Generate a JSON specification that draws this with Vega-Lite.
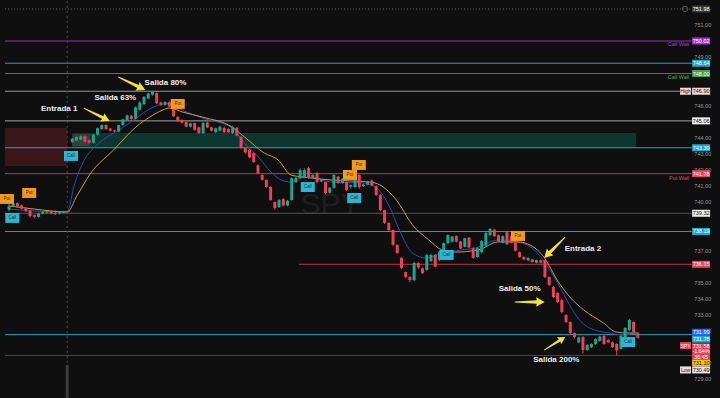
{
"$schema": "https://vega.github.io/schema/vega-lite/v6.json",
"width": 720, "height": 398, "autosize": {"type": "none"}, "padding": 0,
"background": "#0f0f0f",
"config": {"view": {"stroke": null}, "font": "Liberation Sans", "axis": {"disable": true}},
"resolve": {"scale": {"fill": "independent", "stroke": "independent", "color": "independent"}},
"datasets": {
"candles": [
{"i":0,"o":739.55,"h":739.9,"l":739.45,"c":739.75},{"i":1,"o":739.75,"h":740.05,"l":739.7,"c":739.95},{"i":2,"o":739.95,"h":740.0,"l":739.7,"c":739.75},{"i":3,"o":739.8,"h":739.85,"l":739.55,"c":739.6},{"i":4,"o":739.6,"h":739.7,"l":739.4,"c":739.45},{"i":5,"o":739.5,"h":739.55,"l":739.05,"c":739.15},{"i":6,"o":739.2,"h":739.25,"l":739.0,"c":739.1},{"i":7,"o":739.1,"h":739.35,"l":739.05,"c":739.3},{"i":8,"o":739.3,"h":739.45,"l":739.25,"c":739.4},{"i":9,"o":739.35,"h":739.45,"l":739.3,"c":739.42},
{"i":10,"o":739.42,"h":739.5,"l":739.25,"c":739.3},{"i":11,"o":739.35,"h":739.4,"l":739.2,"c":739.28},{"i":12,"o":739.3,"h":739.42,"l":739.25,"c":739.38},{"i":13,"o":739.36,"h":739.48,"l":739.3,"c":739.45},{"i":14,"o":739.45,"h":739.5,"l":739.35,"c":739.4},
{"i":15,"o":743.75,"h":744.0,"l":743.7,"c":743.95},{"i":16,"o":743.85,"h":744.1,"l":743.8,"c":744.05},{"i":17,"o":743.9,"h":744.15,"l":743.85,"c":744.1},{"i":18,"o":744.1,"h":744.15,"l":743.72,"c":743.78},{"i":19,"o":743.85,"h":743.9,"l":743.65,"c":743.7},
{"i":20,"o":743.7,"h":744.25,"l":743.65,"c":744.2},{"i":21,"o":744.2,"h":744.65,"l":744.15,"c":744.6},{"i":22,"o":744.55,"h":744.85,"l":744.5,"c":744.8},{"i":23,"o":744.8,"h":744.85,"l":744.5,"c":744.55},{"i":24,"o":744.58,"h":744.62,"l":744.4,"c":744.45},{"i":25,"o":744.47,"h":744.5,"l":744.35,"c":744.4},{"i":26,"o":744.4,"h":744.82,"l":744.35,"c":744.8},{"i":27,"o":744.8,"h":745.2,"l":744.75,"c":745.15},{"i":28,"o":745.12,"h":745.45,"l":745.08,"c":745.4},{"i":29,"o":745.38,"h":745.42,"l":745.12,"c":745.18},
{"i":30,"o":745.2,"h":745.95,"l":745.15,"c":745.9},{"i":31,"o":745.75,"h":746.28,"l":745.7,"c":746.2},{"i":32,"o":746.1,"h":746.6,"l":746.05,"c":746.55},{"i":33,"o":746.45,"h":746.8,"l":746.4,"c":746.75},{"i":34,"o":746.68,"h":746.9,"l":746.62,"c":746.85},{"i":35,"o":746.78,"h":746.82,"l":746.1,"c":746.15},{"i":36,"o":746.2,"h":746.25,"l":746.0,"c":746.05},{"i":37,"o":746.05,"h":746.28,"l":746.0,"c":746.22},{"i":38,"o":746.22,"h":746.28,"l":745.9,"c":745.95},{"i":39,"o":745.95,"h":746.0,"l":745.3,"c":745.35},
{"i":40,"o":745.3,"h":745.35,"l":745.0,"c":745.05},{"i":41,"o":745.1,"h":745.15,"l":744.9,"c":744.95},{"i":42,"o":744.99,"h":745.02,"l":744.65,"c":744.7},{"i":43,"o":744.7,"h":744.95,"l":744.65,"c":744.9},{"i":44,"o":744.92,"h":744.95,"l":744.45,"c":744.5},{"i":45,"o":744.65,"h":744.7,"l":744.25,"c":744.3},{"i":46,"o":744.3,"h":745.0,"l":744.25,"c":744.92},{"i":47,"o":744.95,"h":745.0,"l":744.6,"c":744.65},{"i":48,"o":744.65,"h":744.7,"l":744.4,"c":744.45},{"i":49,"o":744.35,"h":744.65,"l":744.3,"c":744.6},
{"i":50,"o":744.45,"h":744.75,"l":744.4,"c":744.7},{"i":51,"o":744.62,"h":744.7,"l":744.3,"c":744.35},{"i":52,"o":744.55,"h":744.6,"l":744.3,"c":744.35},{"i":53,"o":744.3,"h":744.75,"l":744.25,"c":744.68},{"i":54,"o":744.62,"h":744.68,"l":744.1,"c":744.15},{"i":55,"o":744.06,"h":744.1,"l":743.3,"c":743.37},{"i":56,"o":743.37,"h":743.4,"l":743.02,"c":743.1},{"i":57,"o":743.25,"h":743.3,"l":742.75,"c":742.8},{"i":58,"o":743.06,"h":743.1,"l":742.45,"c":742.5},{"i":59,"o":742.3,"h":742.35,"l":741.75,"c":741.8},
{"i":60,"o":741.7,"h":741.75,"l":741.35,"c":741.4},{"i":61,"o":741.39,"h":741.42,"l":740.9,"c":740.95},{"i":62,"o":740.95,"h":741.0,"l":740.1,"c":740.14},{"i":63,"o":740.02,"h":740.05,"l":739.55,"c":739.65},{"i":64,"o":739.71,"h":740.2,"l":739.65,"c":740.14},{"i":65,"o":740.2,"h":740.25,"l":739.75,"c":739.8},{"i":66,"o":739.8,"h":740.15,"l":739.75,"c":740.1},{"i":67,"o":740.14,"h":741.55,"l":740.1,"c":741.5},{"i":68,"o":741.26,"h":741.6,"l":741.2,"c":741.51},{"i":69,"o":741.5,"h":742.1,"l":741.45,"c":742.0},
{"i":70,"o":741.55,"h":742.1,"l":741.5,"c":742.0},{"i":71,"o":742.13,"h":742.2,"l":741.45,"c":741.51},{"i":72,"o":741.55,"h":741.75,"l":741.5,"c":741.7},{"i":73,"o":741.82,"h":741.9,"l":741.2,"c":741.26},{"i":74,"o":741.3,"h":741.45,"l":741.25,"c":741.4},{"i":75,"o":741.26,"h":741.3,"l":740.5,"c":740.58},{"i":76,"o":740.6,"h":740.95,"l":740.55,"c":740.9},{"i":77,"o":740.9,"h":741.75,"l":740.85,"c":741.7},{"i":78,"o":741.6,"h":741.65,"l":741.15,"c":741.2},{"i":79,"o":741.2,"h":741.5,"l":741.15,"c":741.45},
{"i":80,"o":741.26,"h":741.3,"l":740.7,"c":740.77},{"i":81,"o":740.97,"h":741.1,"l":740.85,"c":741.08},{"i":82,"o":740.95,"h":741.9,"l":740.9,"c":741.7},{"i":83,"o":741.7,"h":741.75,"l":740.85,"c":740.95},{"i":84,"o":741.0,"h":741.15,"l":740.95,"c":741.1},{"i":85,"o":741.1,"h":741.35,"l":741.05,"c":741.3},{"i":86,"o":741.35,"h":741.4,"l":741.0,"c":741.05},{"i":87,"o":741.0,"h":741.05,"l":740.4,"c":740.45},{"i":88,"o":740.45,"h":740.5,"l":739.45,"c":739.52},{"i":89,"o":739.52,"h":739.55,"l":738.65,"c":738.72},
{"i":90,"o":738.72,"h":738.75,"l":738.2,"c":738.28},{"i":91,"o":738.28,"h":738.3,"l":737.3,"c":737.35},{"i":92,"o":737.35,"h":737.4,"l":736.8,"c":736.85},{"i":93,"o":736.54,"h":736.6,"l":735.85,"c":735.92},{"i":94,"o":735.67,"h":735.7,"l":735.3,"c":735.36},{"i":95,"o":735.36,"h":735.4,"l":735.05,"c":735.17},{"i":96,"o":735.17,"h":736.3,"l":735.1,"c":736.23},{"i":97,"o":736.23,"h":736.3,"l":735.85,"c":735.95},{"i":98,"o":735.9,"h":735.95,"l":735.55,"c":735.6},{"i":99,"o":735.8,"h":736.8,"l":735.75,"c":736.73},
{"i":100,"o":736.35,"h":736.8,"l":736.3,"c":736.73},{"i":101,"o":736.73,"h":736.8,"l":735.95,"c":736.0},{"i":102,"o":736.42,"h":736.98,"l":736.35,"c":736.93},{"i":103,"o":736.93,"h":737.5,"l":736.88,"c":737.47},{"i":104,"o":737.47,"h":738.0,"l":737.4,"c":737.97},{"i":105,"o":737.56,"h":737.9,"l":737.5,"c":737.87},{"i":106,"o":737.9,"h":737.95,"l":737.5,"c":737.56},{"i":107,"o":737.56,"h":737.6,"l":737.1,"c":737.14},{"i":108,"o":737.24,"h":737.8,"l":737.2,"c":737.77},{"i":109,"o":737.8,"h":737.85,"l":737.15,"c":737.2},
{"i":110,"o":737.14,"h":737.2,"l":736.5,"c":736.55},{"i":111,"o":736.6,"h":737.2,"l":736.55,"c":737.15},{"i":112,"o":736.9,"h":737.65,"l":736.85,"c":737.6},{"i":113,"o":737.3,"h":738.15,"l":737.25,"c":738.1},{"i":114,"o":737.97,"h":738.4,"l":737.9,"c":738.35},{"i":115,"o":738.3,"h":738.35,"l":737.85,"c":737.9},{"i":116,"o":737.95,"h":738.0,"l":737.55,"c":737.6},{"i":117,"o":737.5,"h":737.95,"l":737.45,"c":737.9},{"i":118,"o":738.15,"h":738.2,"l":737.35,"c":737.4},{"i":119,"o":737.9,"h":737.95,"l":737.45,"c":737.5},
{"i":120,"o":737.5,"h":737.55,"l":736.95,"c":737.0},{"i":121,"o":736.9,"h":736.95,"l":736.55,"c":736.6},{"i":122,"o":736.6,"h":736.65,"l":736.4,"c":736.45},{"i":123,"o":736.4,"h":736.6,"l":736.35,"c":736.55},{"i":124,"o":736.45,"h":736.5,"l":736.25,"c":736.3},{"i":125,"o":736.25,"h":736.45,"l":736.2,"c":736.4},{"i":126,"o":736.4,"h":736.45,"l":736.2,"c":736.25},{"i":127,"o":736.42,"h":736.45,"l":735.3,"c":735.36},{"i":128,"o":735.36,"h":735.4,"l":734.8,"c":734.87},{"i":129,"o":734.74,"h":734.8,"l":734.05,"c":734.12},
{"i":130,"o":734.37,"h":734.4,"l":733.75,"c":733.8},{"i":131,"o":733.93,"h":734.0,"l":733.1,"c":733.19},{"i":132,"o":733.0,"h":733.05,"l":732.5,"c":732.57},{"i":133,"o":732.57,"h":732.6,"l":731.8,"c":731.88},{"i":134,"o":731.88,"h":731.9,"l":731.55,"c":731.63},{"i":135,"o":731.3,"h":731.65,"l":731.25,"c":731.6},{"i":136,"o":731.63,"h":731.7,"l":730.6,"c":730.83},{"i":137,"o":730.83,"h":731.2,"l":730.75,"c":731.14},{"i":138,"o":731.0,"h":731.25,"l":730.95,"c":731.2},{"i":139,"o":731.2,"h":731.55,"l":731.15,"c":731.5},
{"i":140,"o":731.4,"h":731.7,"l":731.35,"c":731.65},{"i":141,"o":731.7,"h":731.75,"l":731.15,"c":731.2},{"i":142,"o":731.45,"h":731.5,"l":731.25,"c":731.3},{"i":143,"o":731.3,"h":731.35,"l":730.95,"c":731.0},{"i":144,"o":731.2,"h":731.25,"l":730.49,"c":730.8},{"i":145,"o":730.9,"h":731.75,"l":730.85,"c":731.7},{"i":146,"o":731.63,"h":732.25,"l":731.6,"c":732.19},{"i":147,"o":732.07,"h":732.75,"l":732.0,"c":732.69},{"i":148,"o":732.57,"h":732.6,"l":731.9,"c":731.94},{"i":149,"o":731.85,"h":731.9,"l":731.55,"c":731.58}
],
"ma": [
{"s":"f","i":0,"p":739.58},{"s":"f","i":6,"p":739.46},{"s":"f","i":13.8,"p":739.4},{"s":"f","i":15.4,"p":741.0},{"s":"f","i":17.8,"p":742.6},{"s":"f","i":20.2,"p":743.4},{"s":"f","i":22.4,"p":743.9},{"s":"f","i":25.5,"p":744.4},{"s":"f","i":28.7,"p":744.95},{"s":"f","i":31.8,"p":745.55},{"s":"f","i":34.1,"p":745.9},{"s":"f","i":36.4,"p":746.1},{"s":"f","i":38.1,"p":746.15},{"s":"f","i":41.1,"p":745.73},{"s":"f","i":45.8,"p":745.24},{"s":"f","i":52.8,"p":744.62},{"s":"f","i":55.8,"p":743.68},{"s":"f","i":59.1,"p":742.81},{"s":"f","i":62.1,"p":741.88},{"s":"f","i":64.5,"p":741.39},{"s":"f","i":66.8,"p":741.26},{"s":"f","i":68.5,"p":741.51},{"s":"f","i":71.5,"p":741.57},{"s":"f","i":76.2,"p":741.26},{"s":"f","i":83.9,"p":741.2},{"s":"f","i":87.1,"p":740.89},{"s":"f","i":90.2,"p":739.71},{"s":"f","i":92.5,"p":738.28},{"s":"f","i":95.6,"p":736.85},{"s":"f","i":98.8,"p":736.54},{"s":"f","i":102.6,"p":736.85},{"s":"f","i":107.2,"p":737.04},{"s":"f","i":110.5,"p":737.16},{"s":"f","i":115.9,"p":737.66},{"s":"f","i":120.6,"p":737.54},{"s":"f","i":124.5,"p":737.04},{"s":"f","i":126.9,"p":736.29},{"s":"f","i":129.2,"p":735.36},{"s":"f","i":132.2,"p":733.93},{"s":"f","i":134.6,"p":732.88},{"s":"f","i":137.6,"p":732.19},{"s":"f","i":142.3,"p":731.88},{"s":"f","i":145.6,"p":731.76},{"s":"f","i":148.6,"p":731.94},
{"s":"s","i":0,"p":739.77},{"s":"s","i":6,"p":739.58},{"s":"s","i":13.8,"p":739.4},{"s":"s","i":16.1,"p":740.4},{"s":"s","i":19.4,"p":741.82},{"s":"s","i":24.8,"p":743.25},{"s":"s","i":30.1,"p":744.68},{"s":"s","i":33.4,"p":745.3},{"s":"s","i":36.4,"p":745.73},{"s":"s","i":38.1,"p":745.86},{"s":"s","i":41.1,"p":745.61},{"s":"s","i":45.8,"p":745.3},{"s":"s","i":52.8,"p":744.68},{"s":"s","i":55.8,"p":744.06},{"s":"s","i":60.5,"p":743.06},{"s":"s","i":63.8,"p":742.63},{"s":"s","i":66.8,"p":741.7},{"s":"s","i":69.9,"p":741.57},{"s":"s","i":76.2,"p":741.39},{"s":"s","i":85.5,"p":741.26},{"s":"s","i":87.9,"p":741.08},{"s":"s","i":91.8,"p":740.14},{"s":"s","i":95.6,"p":738.6},{"s":"s","i":99.5,"p":737.66},{"s":"s","i":102.6,"p":737.04},{"s":"s","i":105.8,"p":736.91},{"s":"s","i":111.2,"p":737.04},{"s":"s","i":115.9,"p":737.54},{"s":"s","i":120.6,"p":737.54},{"s":"s","i":125.2,"p":737.04},{"s":"s","i":126.9,"p":736.54},{"s":"s","i":129.9,"p":735.17},{"s":"s","i":132.9,"p":734.12},{"s":"s","i":136.2,"p":733.31},{"s":"s","i":140.9,"p":732.5},{"s":"s","i":143.9,"p":731.94},{"s":"s","i":147,"p":731.88},{"s":"s","i":149.3,"p":731.88}
],
"levels": [
{"p":752.01,"k":"d","from":-0.935},{"p":750.02,"k":"p","from":-0.935},{"p":748.64,"k":"c","from":-0.935},{"p":748.0,"k":"g","from":-0.935},{"p":746.9,"k":"h","from":-0.935},{"p":745.06,"k":"w","from":-0.935},{"p":743.39,"k":"c","from":-0.935},{"p":741.78,"k":"r","from":-0.935},{"p":739.32,"k":"w2","from":-0.935},{"p":738.19,"k":"c","from":-0.935},{"p":736.15,"k":"r","from":68.7},{"p":731.78,"k":"c","from":-0.935},{"p":730.49,"k":"l","from":-0.935}
],
"zones": [
{"z":"red","x1":-0.935,"x2":13.8,"p1":744.62,"p2":742.26},{"z":"green","x1":15,"x2":148.6,"p1":744.3,"p2":743.37},{"z":"gray","x1":15,"x2":19.2,"p1":744.24,"p2":743.5}
],
"signals": [
{"t":"Put","i":-0.47,"p":740.21},{"t":"Call","i":0.8,"p":739.03},{"t":"Put","i":4.8,"p":740.58},{"t":"Call","i":14.7,"p":742.88},{"t":"Put","i":40.0,"p":746.11},{"t":"Call","i":70.8,"p":740.95},{"t":"Put","i":80.8,"p":741.7},{"t":"Put","i":82.9,"p":742.32},{"t":"Call","i":81.8,"p":740.27},{"t":"Call","i":103.7,"p":736.73},{"t":"Put","i":120.6,"p":737.91},{"t":"Call","i":146.7,"p":731.32}
],
"notes": [
{"t":"Entrada 1","i":11.9,"p":745.8},{"t":"Salida 63%","i":25.2,"p":746.48},{"t":"Salida 80%","i":37.1,"p":747.41},{"t":"Entrada 2","i":136.0,"p":737.1},{"t":"Salida 50%","i":121.0,"p":734.6},{"t":"Salida 200%","i":129.7,"p":730.2}
],
"arrows": [
{"a":1,"i":20.8,"p":745.45},{"a":2,"i":29.1,"p":747.38},{"a":3,"i":129.3,"p":737.19},{"a":4,"i":123.4,"p":733.81},{"a":5,"i":129.3,"p":731.23}
],
"ticks": [
{"v":751,"t":"751.00"},{"v":749,"t":"749.00"},{"v":746,"t":"746.00"},{"v":744,"t":"744.00"},{"v":743,"t":"743.00"},{"v":742,"t":"742.00"},{"v":741,"t":"741.00"},{"v":740,"t":"740.00"},{"v":737,"t":"737.00"},{"v":735,"t":"735.00"},{"v":734,"t":"734.00"},{"v":733,"t":"733.00"},{"v":732,"t":"732.00"},{"v":730,"t":"730.00"},{"v":729,"t":"729.00"}
],
"tags": [
{"t":"751.98","p":752.01,"k":"d"},{"t":"750.02","p":750.02,"k":"p"},{"t":"748.64","p":748.64,"k":"c"},{"t":"748.00","p":748.0,"k":"g"},{"t":"746.90","p":746.9,"k":"h"},{"t":"745.06","p":745.06,"k":"w"},{"t":"743.39","p":743.39,"k":"c"},{"t":"741.78","p":741.78,"k":"r"},{"t":"739.32","p":739.32,"k":"w"},{"t":"738.19","p":738.19,"k":"c"},{"t":"736.15","p":736.15,"k":"r"},{"t":"731.99","p":731.93,"k":"b"},{"t":"731.78","p":731.5,"k":"c"},{"t":"731.58","p":731.1,"k":"s"},{"t":"-1.64%","p":730.74,"k":"s"},{"t":"35:45","p":730.38,"k":"s"},{"t":"731.10","p":730.03,"k":"y"},{"t":"730.49","p":729.59,"k":"l"}
],
"minis": [
{"t":"High","p":746.9,"k":"h"},{"t":"SPY","p":731.1,"k":"s"},{"t":"Low","p":729.59,"k":"l"}
],
"walls": [
{"t":"Call Wall","p":749.83,"k":"p"},{"t":"Call Wall","p":747.8,"k":"g"},{"t":"Put Wall","p":741.51,"k":"r"}
],
"mark": [{"t":"SPY","i":76.2,"p":739.83}]
},
"layer": [
{"data": {"name": "zones"}, "mark": {"type": "rect"},
 "encoding": {
  "x": {"field": "x1", "type": "quantitative", "scale": {"domain": [-0.935, 167.29], "nice": false, "zero": false}, "axis": null},
  "x2": {"field": "x2"},
  "y": {"field": "p1", "type": "quantitative", "scale": {"domain": [727.846, 752.567], "nice": false, "zero": false}, "axis": null},
  "y2": {"field": "p2"},
  "fill": {"field": "z", "type": "nominal", "scale": {"domain": ["red", "green", "gray"], "range": ["#3a161b", "#0d362e", "#3a3d3c"]}, "legend": null}
 }},
{"data": {"name": "mark"}, "mark": {"type": "text", "fontSize": 30, "color": "#1f1f1f", "font": "Liberation Sans"},
 "encoding": {"x": {"field": "i", "type": "quantitative", "axis": null}, "y": {"field": "p", "type": "quantitative", "axis": null}, "text": {"field": "t"}}},
{"data": {"name": "ticks"}, "mark": {"type": "text", "fontSize": 5.5, "align": "left", "color": "#9a9a9a", "font": "Liberation Sans"},
 "encoding": {"x": {"datum": 162.4, "type": "quantitative"}, "y": {"field": "v", "type": "quantitative", "axis": null}, "text": {"field": "t"}}},
{"data": {"name": "levels"}, "mark": {"type": "rule", "strokeWidth": 1},
 "encoding": {
  "x": {"field": "from", "type": "quantitative", "axis": null},
  "x2": {"datum": 161.8},
  "y": {"field": "p", "type": "quantitative", "axis": null},
  "stroke": {"field": "k", "type": "nominal", "scale": {"domain": ["d", "p", "c", "g", "h", "w", "w2", "r", "l"], "range": ["#5a5a5a", "#9a2fb4", "#2a9fc0", "#3f8a3f", "#9a9a9a", "#a5a5a5", "#555555", "#c7354a", "#4a4a4a"]}, "legend": null},
  "strokeDash": {"condition": {"test": "datum.k == 'd'", "value": [1, 2]}, "value": [1, 0]}
 }},
{"data": {"values": [{"i": 13.8}]}, "mark": {"type": "rule", "color": "#4a4a4a", "strokeDash": [2, 3], "strokeWidth": 1},
 "encoding": {"x": {"field": "i", "type": "quantitative", "axis": null}, "y": {"datum": 727.85, "type": "quantitative", "axis": null}, "y2": {"datum": 752.56}}},
{"data": {"values": [{"i": 13.8}]}, "mark": {"type": "rule", "color": "#3c3c3c", "strokeWidth": 3},
 "encoding": {"x": {"field": "i", "type": "quantitative", "axis": null}, "y": {"datum": 727.85, "type": "quantitative", "axis": null}, "y2": {"datum": 729.9}}},
{"data": {"name": "ma"}, "mark": {"type": "line", "strokeWidth": 1, "interpolate": "monotone"},
 "encoding": {
  "x": {"field": "i", "type": "quantitative", "axis": null},
  "y": {"field": "p", "type": "quantitative", "axis": null},
  "color": {"field": "s", "type": "nominal", "scale": {"domain": ["f", "s"], "range": ["#3547b8", "#c49f4a"]}, "legend": null}
 }},
{"data": {"name": "candles"}, "mark": {"type": "rule", "strokeWidth": 1},
 "encoding": {
  "x": {"field": "i", "type": "quantitative", "axis": null},
  "y": {"field": "l", "type": "quantitative", "axis": null},
  "y2": {"field": "h"},
  "color": {"condition": {"test": "datum.c >= datum.o", "value": "#1fa58b"}, "value": "#ee4059"}
 }},
{"data": {"name": "candles"}, "mark": {"type": "bar", "width": 3},
 "encoding": {
  "x": {"field": "i", "type": "quantitative", "axis": null},
  "y": {"field": "o", "type": "quantitative", "axis": null},
  "y2": {"field": "c"},
  "color": {"condition": {"test": "datum.c >= datum.o", "value": "#1fa58b"}, "value": "#ee4059"}
 }},
{"data": {"name": "signals"}, "mark": {"type": "point", "filled": true, "opacity": 1, "shape": "M-1,-0.71H1V0.71H-1Z", "size": 196},
 "encoding": {
  "x": {"field": "i", "type": "quantitative", "axis": null},
  "y": {"field": "p", "type": "quantitative", "axis": null},
  "fill": {"field": "t", "type": "nominal", "scale": {"domain": ["Put", "Call"], "range": ["#f39a1e", "#2bb6d8"]}, "legend": null}
 }},
{"data": {"name": "signals"}, "mark": {"type": "text", "fontSize": 4.5, "color": "#3a2a10", "font": "Liberation Sans"},
 "encoding": {"x": {"field": "i", "type": "quantitative", "axis": null}, "y": {"field": "p", "type": "quantitative", "axis": null}, "text": {"field": "t"}}},
{"data": {"name": "notes"}, "mark": {"type": "text", "fontSize": 8, "fontWeight": "bold", "color": "#eeeeee", "font": "Liberation Sans"},
 "encoding": {"x": {"field": "i", "type": "quantitative", "axis": null}, "y": {"field": "p", "type": "quantitative", "axis": null}, "text": {"field": "t"}}},
{"data": {"name": "arrows"}, "transform": [{"filter": "datum.a == 1"}], "mark": {"type": "point", "filled": true, "opacity": 1, "color": "#f1e23a", "shape": "M0,-1L0.32,-0.42L0.11,-0.47L0.03,1L-0.03,1L-0.11,-0.47L-0.32,-0.42Z", "size": 841, "angle": 116.5},
 "encoding": {"x": {"field": "i", "type": "quantitative", "axis": null}, "y": {"field": "p", "type": "quantitative", "axis": null}}},
{"data": {"name": "arrows"}, "transform": [{"filter": "datum.a == 2"}], "mark": {"type": "point", "filled": true, "opacity": 1, "color": "#f1e23a", "shape": "M0,-1L0.32,-0.42L0.11,-0.47L0.03,1L-0.03,1L-0.11,-0.47L-0.32,-0.42Z", "size": 900, "angle": 115.7},
 "encoding": {"x": {"field": "i", "type": "quantitative", "axis": null}, "y": {"field": "p", "type": "quantitative", "axis": null}}},
{"data": {"name": "arrows"}, "transform": [{"filter": "datum.a == 3"}], "mark": {"type": "point", "filled": true, "opacity": 1, "color": "#f1e23a", "shape": "M0,-1L0.32,-0.42L0.11,-0.47L0.03,1L-0.03,1L-0.11,-0.47L-0.32,-0.42Z", "size": 882, "angle": 225},
 "encoding": {"x": {"field": "i", "type": "quantitative", "axis": null}, "y": {"field": "p", "type": "quantitative", "axis": null}}},
{"data": {"name": "arrows"}, "transform": [{"filter": "datum.a == 4"}], "mark": {"type": "point", "filled": true, "opacity": 1, "color": "#f1e23a", "shape": "M0,-1L0.32,-0.42L0.11,-0.47L0.03,1L-0.03,1L-0.11,-0.47L-0.32,-0.42Z", "size": 900, "angle": 90},
 "encoding": {"x": {"field": "i", "type": "quantitative", "axis": null}, "y": {"field": "p", "type": "quantitative", "axis": null}}},
{"data": {"name": "arrows"}, "transform": [{"filter": "datum.a == 5"}], "mark": {"type": "point", "filled": true, "opacity": 1, "color": "#f1e23a", "shape": "M0,-1L0.32,-0.42L0.11,-0.47L0.03,1L-0.03,1L-0.11,-0.47L-0.32,-0.42Z", "size": 625, "angle": 58},
 "encoding": {"x": {"field": "i", "type": "quantitative", "axis": null}, "y": {"field": "p", "type": "quantitative", "axis": null}}},
{"data": {"name": "tags"}, "transform": [{"filter": "datum.k != 's'"}], "mark": {"type": "point", "filled": true, "opacity": 1, "shape": "M-1,-0.39H1V0.39H-1Z", "size": 324},
 "encoding": {
  "x": {"datum": 164.0, "type": "quantitative"},
  "y": {"field": "p", "type": "quantitative", "axis": null},
  "fill": {"field": "k", "type": "nominal", "scale": {"domain": ["d", "p", "c", "g", "h", "w", "r", "b", "y", "l"], "range": ["#3a3a3a", "#b02fcf", "#1da8cc", "#45a048", "#f3d5d5", "#ececec", "#e8435a", "#2962ff", "#f2c417", "#f2dcdc"]}, "legend": null}
 }},
{"data": {"name": "tags"}, "transform": [{"filter": "datum.t == '-1.64%'"}], "mark": {"type": "point", "filled": true, "opacity": 1, "color": "#e8435a", "shape": "M-1,-0.89H1V0.89H-1Z", "size": 324},
 "encoding": {"x": {"datum": 164.0, "type": "quantitative"}, "y": {"field": "p", "type": "quantitative", "axis": null}}},
{"data": {"name": "tags"}, "mark": {"type": "text", "fontSize": 5.5, "font": "Liberation Sans"},
 "encoding": {
  "x": {"datum": 164.0, "type": "quantitative"},
  "y": {"field": "p", "type": "quantitative", "axis": null},
  "text": {"field": "t"},
  "color": {"condition": {"test": "indexof(['h','w','y','l'], datum.k) >= 0", "value": "#151515"}, "value": "#ffffff"}
 }},
{"data": {"name": "minis"}, "mark": {"type": "point", "filled": true, "opacity": 1, "shape": "M-1,-0.64H1V0.64H-1Z", "size": 121},
 "encoding": {
  "x": {"datum": 160.3, "type": "quantitative"},
  "y": {"field": "p", "type": "quantitative", "axis": null},
  "fill": {"field": "k", "type": "nominal", "scale": {"domain": ["h", "s", "l"], "range": ["#f3d5d5", "#e8435a", "#f2dcdc"]}, "legend": null}
 }},
{"data": {"name": "minis"}, "mark": {"type": "text", "fontSize": 5, "font": "Liberation Sans"},
 "encoding": {
  "x": {"datum": 160.3, "type": "quantitative"},
  "y": {"field": "p", "type": "quantitative", "axis": null},
  "text": {"field": "t"},
  "color": {"condition": {"test": "datum.k == 's'", "value": "#ffffff"}, "value": "#151515"}
 }},
{"data": {"name": "walls"}, "mark": {"type": "text", "fontSize": 5.5, "align": "right", "font": "Liberation Sans"},
 "encoding": {
  "x": {"datum": 161.2, "type": "quantitative"},
  "y": {"field": "p", "type": "quantitative", "axis": null},
  "text": {"field": "t"},
  "color": {"field": "k", "type": "nominal", "scale": {"domain": ["p", "g", "r"], "range": ["#b03acb", "#4caf50", "#e0485c"]}, "legend": null}
 }},
{"data": {"values": [{"p": 752.01}]}, "mark": {"type": "point", "shape": "circle", "size": 30, "color": "#8a8a8a", "strokeWidth": 0.8},
 "encoding": {"x": {"datum": 160.2, "type": "quantitative"}, "y": {"field": "p", "type": "quantitative", "axis": null}}}
]
}
